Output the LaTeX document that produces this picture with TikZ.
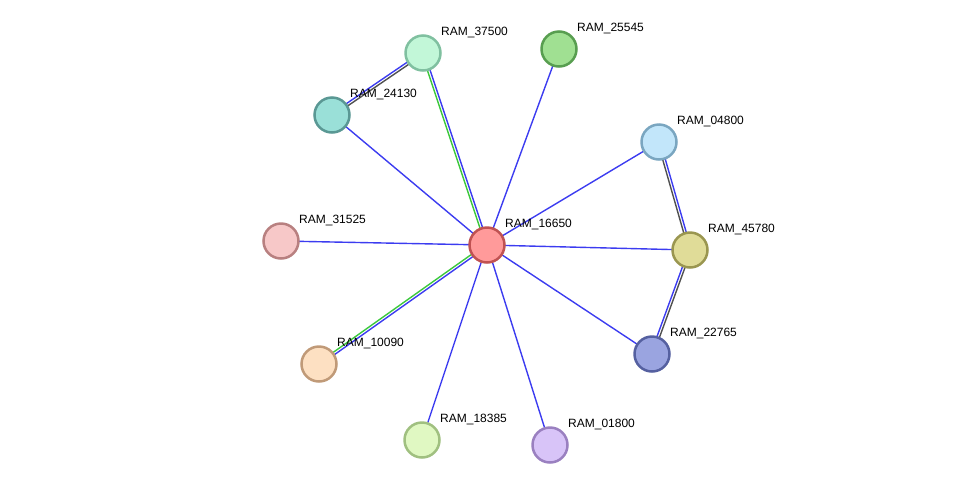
\documentclass[tikz,border=0pt]{standalone}
\usepackage{fontspec}
\setsansfont{Liberation Sans}
\usepackage{tikz}
\usetikzlibrary{calc, backgrounds}
\definecolor{edgeBlue}{RGB}{60, 60, 240}
\definecolor{edgeGreen}{RGB}{60, 200, 60}
\definecolor{edgeGray}{RGB}{80, 80, 80}

% two parallel lines between two nodes
\newcommand{\twinedge}[4]{%
  \draw[edge, #3] ($(#1)!1.3pt!90:(#2)$) -- ($(#2)!1.3pt!-90:(#1)$);
  \draw[edge, #4] ($(#1)!1.3pt!-90:(#2)$) -- ($(#2)!1.3pt!90:(#1)$);
}

\begin{document}
\begin{tikzpicture}[x=1pt, y=-1pt,
    prot/.style={circle, minimum size=35pt, inner sep=0pt, line width=2.5pt},
    lbl/.style={anchor=west, inner sep=0pt, font=\sffamily\fontsize{12}{14}\selectfont},
    edge/.style={line width=1.4pt}]
  \useasboundingbox (0,0) rectangle (976,491);

  % proteins
  \node[prot, fill={rgb,255:red,255;green,154;blue,154}, draw={rgb,255:red,192;green,82;blue,82}] (n16650) at (487,245) {};
  \node[prot, fill={rgb,255:red,194;green,247;blue,216}, draw={rgb,255:red,128;green,192;blue,160}] (n37500) at (423,53) {};
  \node[prot, fill={rgb,255:red,160;green,224;blue,146}, draw={rgb,255:red,88;green,158;blue,80}] (n25545) at (559,49) {};
  \node[prot, fill={rgb,255:red,154;green,224;blue,216}, draw={rgb,255:red,90;green,152;blue,148}] (n24130) at (332,115) {};
  \node[prot, fill={rgb,255:red,194;green,230;blue,250}, draw={rgb,255:red,122;green,166;blue,192}] (n04800) at (659,142) {};
  \node[prot, fill={rgb,255:red,247;green,200;blue,200}, draw={rgb,255:red,184;green,128;blue,128}] (n31525) at (281,241) {};
  \node[prot, fill={rgb,255:red,224;green,220;blue,152}, draw={rgb,255:red,154;green,150;blue,80}] (n45780) at (690,250) {};
  \node[prot, fill={rgb,255:red,253;green,224;blue,194}, draw={rgb,255:red,192;green,154;blue,120}] (n10090) at (319,364) {};
  \node[prot, fill={rgb,255:red,154;green,164;blue,224}, draw={rgb,255:red,85;green,96;blue,160}] (n22765) at (652,354) {};
  \node[prot, fill={rgb,255:red,224;green,248;blue,194}, draw={rgb,255:red,160;green,192;blue,128}] (n18385) at (422,440) {};
  \node[prot, fill={rgb,255:red,216;green,196;blue,248}, draw={rgb,255:red,154;green,128;blue,192}] (n01800) at (550,445) {};

  % names
  \foreach \id in {16650,37500,25545,24130,04800,31525,45780,10090,22765,18385,01800}
    \node[lbl] (t\id) at ($(n\id)+(18,-21)$) {RAM\_\id};

  % interactions
  \begin{scope}[on background layer]
    \foreach \id in {25545,24130,04800,31525,45780,22765,18385,01800}
      \draw[edge, edgeBlue] (n16650.center) -- (n\id.center);
    \twinedge{n37500}{n16650}{edgeBlue}{edgeGreen}
    \twinedge{n10090}{n16650}{edgeGreen}{edgeBlue}
    \twinedge{n37500}{n24130}{edgeGray}{edgeBlue}
    \twinedge{n04800}{n45780}{edgeBlue}{edgeGray}
    \twinedge{n45780}{n22765}{edgeGray}{edgeBlue}
  \end{scope}
\end{tikzpicture}
\end{document}
